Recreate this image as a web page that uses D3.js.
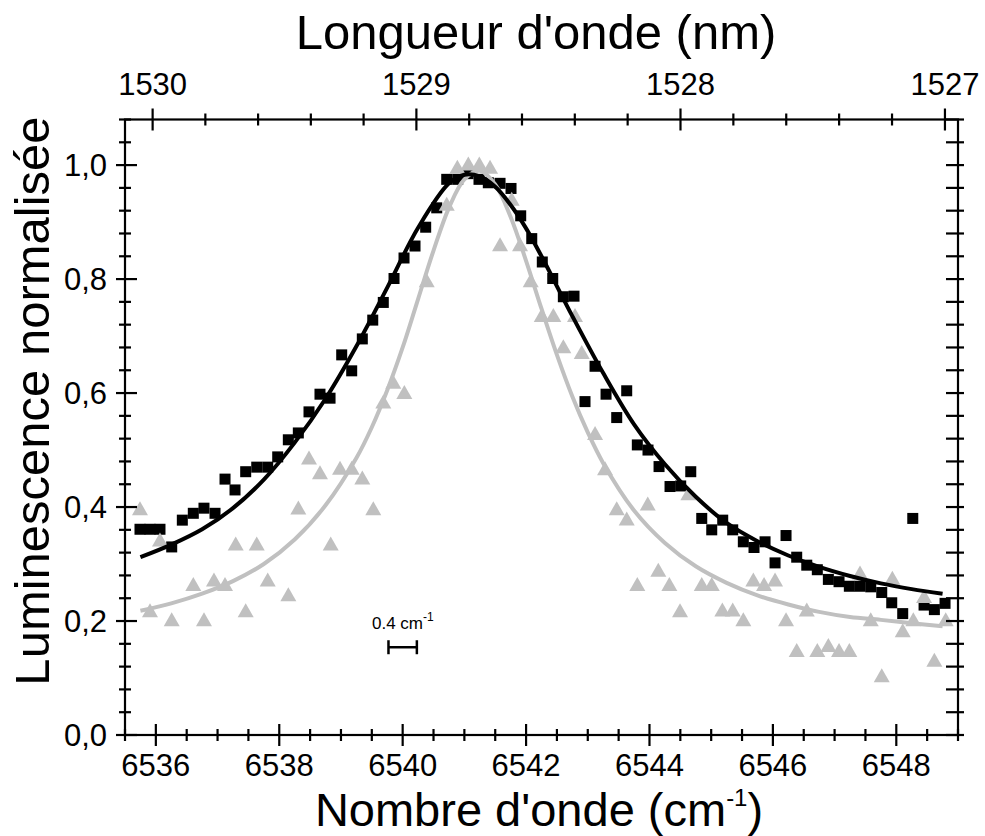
<!DOCTYPE html>
<html><head><meta charset="utf-8">
<script src="https://cdn.jsdelivr.net/npm/d3@7"></script>
<style>
body{margin:0;background:#fff}
text{font-family:"Liberation Sans",Arial,sans-serif;fill:#000}
</style>
</head><body>
<svg id="chart" width="985" height="836"></svg>
<script>
// ---- data ----
const squareX = [6535.743,6535.905,6536.067,6536.257,6536.429,6536.607,6536.780,6536.959,6537.121,6537.283,6537.456,6537.635,6537.813,6537.975,6538.147,6538.309,6538.482,6538.660,6538.823,6539.012,6539.174,6539.346,6539.515,6539.686,6539.860,6540.022,6540.200,6540.373,6540.552,6540.714,6540.892,6541.059,6541.237,6541.388,6541.578,6541.756,6541.913,6542.092,6542.263,6542.432,6542.604,6542.777,6542.955,6543.118,6543.296,6543.469,6543.631,6543.803,6543.976,6544.155,6544.333,6544.506,6544.669,6544.847,6545.009,6545.187,6545.349,6545.521,6545.694,6545.873,6546.035,6546.213,6546.386,6546.549,6546.720,6546.899,6547.072,6547.239,6547.412,6547.586,6547.764,6547.926,6548.104,6548.267,6548.450,6548.617,6548.790];
const squareY = [0.361,0.361,0.361,0.330,0.377,0.389,0.398,0.389,0.449,0.430,0.462,0.470,0.470,0.488,0.518,0.530,0.567,0.598,0.591,0.667,0.639,0.695,0.728,0.759,0.801,0.837,0.858,0.891,0.925,0.975,0.975,0.985,0.975,0.969,0.968,0.959,0.911,0.871,0.830,0.801,0.769,0.770,0.585,0.647,0.598,0.557,0.604,0.509,0.500,0.471,0.436,0.437,0.462,0.380,0.360,0.377,0.360,0.339,0.329,0.339,0.302,0.350,0.312,0.298,0.290,0.273,0.269,0.261,0.261,0.260,0.250,0.232,0.213,0.380,0.228,0.220,0.231];

const triangleX = [6535.743,6535.905,6536.067,6536.257,6536.607,6536.780,6536.942,6537.121,6537.294,6537.456,6537.635,6537.813,6538.147,6538.309,6538.482,6538.660,6538.834,6538.985,6539.174,6539.346,6539.524,6539.686,6539.848,6540.027,6540.390,6540.714,6540.886,6541.064,6541.242,6541.416,6541.578,6541.767,6541.902,6542.075,6542.254,6542.442,6542.604,6542.793,6542.902,6543.118,6543.280,6543.469,6543.631,6543.803,6543.972,6544.143,6544.322,6544.495,6544.630,6544.847,6545.009,6545.181,6545.349,6545.521,6545.683,6545.857,6546.035,6546.213,6546.386,6546.549,6546.720,6546.899,6547.072,6547.239,6547.412,6547.586,6547.764,6547.936,6548.104,6548.276,6548.450,6548.617,6548.801];
const triangleY = [0.398,0.219,0.343,0.203,0.265,0.203,0.273,0.265,0.336,0.219,0.336,0.273,0.247,0.399,0.487,0.461,0.336,0.469,0.469,0.452,0.398,0.585,0.620,0.602,0.798,0.932,0.997,1.003,1.003,0.997,0.861,0.941,0.861,0.798,0.737,0.737,0.682,0.737,0.672,0.530,0.468,0.398,0.380,0.265,0.406,0.290,0.265,0.219,0.424,0.265,0.265,0.220,0.220,0.203,0.273,0.265,0.273,0.203,0.149,0.220,0.149,0.158,0.149,0.149,0.285,0.203,0.105,0.276,0.184,0.203,0.244,0.132,0.203];

const fitBlackX = [6535.75,6536.25,6536.75,6537.25,6537.75,6538.25,6538.75,6539.25,6539.75,6540.25,6540.75,6541.0,6541.25,6541.5,6541.75,6542.0,6542.25,6542.75,6543.25,6543.75,6544.25,6544.75,6545.25,6545.75,6546.25,6546.75,6547.25,6547.75,6548.25,6548.75];
const fitBlackY = [0.312,0.334,0.361,0.398,0.448,0.513,0.590,0.682,0.785,0.890,0.968,0.983,0.980,0.962,0.930,0.889,0.840,0.735,0.635,0.545,0.475,0.418,0.372,0.340,0.315,0.295,0.279,0.266,0.256,0.248];

const fitGrayX = [6535.75,6536.25,6536.75,6537.25,6537.75,6538.25,6538.75,6539.25,6539.5,6539.75,6540.0,6540.25,6540.5,6540.75,6541.0,6541.25,6541.5,6541.75,6542.0,6542.25,6542.5,6542.75,6543.0,6543.25,6543.75,6544.25,6544.75,6545.25,6545.75,6546.25,6546.75,6547.25,6547.75,6548.25,6548.75];
const fitGrayY = [0.218,0.231,0.248,0.270,0.300,0.343,0.403,0.486,0.540,0.605,0.680,0.765,0.850,0.925,0.975,0.990,0.966,0.909,0.832,0.748,0.667,0.594,0.531,0.477,0.394,0.337,0.296,0.267,0.245,0.229,0.216,0.207,0.202,0.196,0.191];

const bottomTickValues = [6536,6538,6540,6542,6544,6546,6548];
const bottomTickLabels = ["6536","6538","6540","6542","6544","6546","6548"];
const leftTickValues = [0,0.2,0.4,0.6,0.8,1.0];
const leftTickLabels = ["0,0","0,2","0,4","0,6","0,8","1,0"];
const topTickNm = [1530,1529,1528,1527];
const topTickLabels = ["1530","1529","1528","1527"];

// ---- layout ----
const L = 125, R = 958, T = 119.5, B = 735;
const svg = d3.select("#chart");
const x = d3.scaleLinear().domain([6535.5, 6549.0]).range([L, R]);
const y = d3.scaleLinear().domain([0, 1.08]).range([B, T]);
const nmToX = nm => x(1e7 / nm);

const grayCol = "#c0c0c0";

// data: squares
const sqSize = 11;
svg.append("g").selectAll("rect").data(d3.range(squareX.length)).join("rect")
  .attr("x", i => x(squareX[i]) - sqSize/2)
  .attr("y", i => y(squareY[i]) - sqSize/2)
  .attr("width", sqSize).attr("height", sqSize).attr("fill", "#000");

// triangles
const tw = 16, th = 14;
svg.append("g").selectAll("path").data(d3.range(triangleX.length)).join("path")
  .attr("d", i => {
    const cx = x(triangleX[i]), cy = y(triangleY[i]);
    return `M${cx},${cy - th/2}L${cx + tw/2},${cy + th/2}L${cx - tw/2},${cy + th/2}Z`;
  })
  .attr("fill", grayCol);

// fit lines
const line = d3.line().curve(d3.curveCatmullRom.alpha(0.5));
svg.append("path")
  .attr("d", line(fitGrayX.map((v, i) => [x(v), y(fitGrayY[i])])))
  .attr("fill", "none").attr("stroke", grayCol).attr("stroke-width", 4);
svg.append("path")
  .attr("d", line(fitBlackX.map((v, i) => [x(v), y(fitBlackY[i])])))
  .attr("fill", "none").attr("stroke", "#000").attr("stroke-width", 4);

// ---- axes frame ----
const ax = svg.append("g").attr("stroke", "#000").attr("stroke-width", 2.2);
ax.append("rect").attr("x", L).attr("y", T).attr("width", R - L).attr("height", B - T)
  .attr("fill", "none");

const bottomMinor = d3.range(6535.5, 6549.01, 0.5);
bottomMinor.forEach(v => {
  const major = bottomTickValues.includes(v);
  const len = major ? 11 : 6;
  ax.append("line").attr("x1", x(v)).attr("x2", x(v)).attr("y1", B - len).attr("y2", B + len);
});
d3.range(0, 16).map(k => 1530 - k * 0.2).forEach((nm, k) => {
  const major = k % 5 === 0;
  const len = major ? 11 : 6;
  ax.append("line").attr("x1", nmToX(nm)).attr("x2", nmToX(nm)).attr("y1", T - len).attr("y2", T + len);
});
d3.range(0, 28).map(k => k * 0.04).forEach((v, k) => {
  const major = k % 5 === 0;
  const lenIn = major ? 12 : 6, lenOut = major ? 9 : 6;
  ax.append("line").attr("x1", L - lenOut).attr("x2", L + lenIn).attr("y1", y(v)).attr("y2", y(v));
  ax.append("line").attr("x1", R - 12).attr("x2", R + 6).attr("y1", y(v)).attr("y2", y(v));
});

// ---- tick labels ----
const tickFont = 31;
bottomTickValues.forEach((v, i) => {
  svg.append("text").attr("x", x(v)).attr("y", 776).attr("text-anchor", "middle")
    .attr("font-size", tickFont).text(bottomTickLabels[i]);
});
topTickNm.forEach((nm, i) => {
  svg.append("text").attr("x", nmToX(nm)).attr("y", 95).attr("text-anchor", "middle")
    .attr("font-size", tickFont).text(topTickLabels[i]);
});
leftTickValues.forEach((v, i) => {
  svg.append("text").attr("x", 107).attr("y", y(v) + 11).attr("text-anchor", "end")
    .attr("font-size", tickFont).text(leftTickLabels[i]);
});

// ---- titles ----
const titleFont = 49;
svg.append("text").attr("x", 536).attr("y", 49).attr("text-anchor", "middle")
  .attr("font-size", titleFont).text("Longueur d'onde (nm)");
const bt = svg.append("text").attr("x", 539).attr("y", 826).attr("text-anchor", "middle")
  .attr("font-size", 47);
bt.append("tspan").text("Nombre d'onde (cm");
bt.append("tspan").attr("font-size", 24).attr("dy", -20).text("-1");
bt.append("tspan").attr("dy", 20).text(")");
svg.append("text").attr("transform", "translate(49,401) rotate(-90)").attr("text-anchor", "middle")
  .attr("font-size", titleFont).text("Luminescence normalisée");

// ---- scale bar annotation ----
const barCenter = 6540.0, barHalf = 0.23, barY = 0.154;
const ann = svg.append("text").attr("x", 372).attr("y", 629).attr("font-size", 17);
ann.append("tspan").text("0.4 cm");
ann.append("tspan").attr("font-size", 12).attr("dy", -8).text("-1");
const sb = svg.append("g").attr("stroke", "#000").attr("stroke-width", 2.5);
sb.append("line").attr("x1", x(barCenter - barHalf)).attr("x2", x(barCenter + barHalf))
  .attr("y1", y(barY)).attr("y2", y(barY));
[barCenter - barHalf, barCenter + barHalf].forEach(v => {
  sb.append("line").attr("x1", x(v)).attr("x2", x(v)).attr("y1", y(barY) - 7).attr("y2", y(barY) + 7);
});
</script>
</body></html>
